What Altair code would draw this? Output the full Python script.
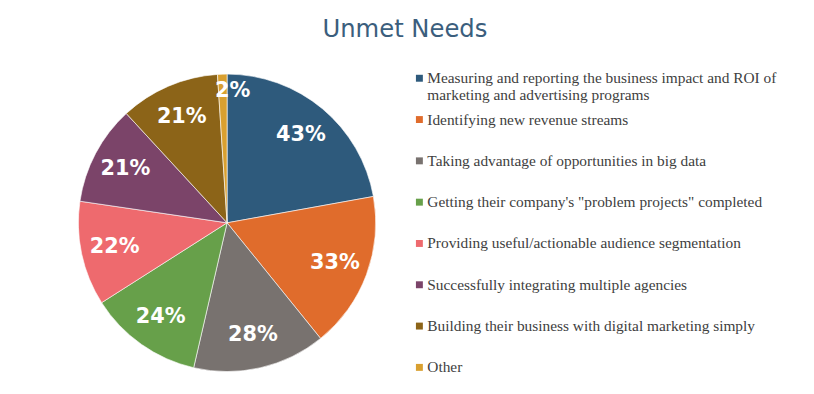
import altair as alt
import pandas as pd

categories = [
    "Measuring and reporting the business impact and ROI of marketing and advertising programs",
    "Identifying new revenue streams",
    "Taking advantage of opportunities in big data",
    "Getting their company's \"problem projects\" completed",
    "Providing useful/actionable audience segmentation",
    "Successfully integrating multiple agencies",
    "Building their business with digital marketing simply",
    "Other",
]
values = [43, 33, 28, 24, 22, 21, 21, 2]
colors = ["#2E5A7C", "#E06C2C", "#78726F", "#67A04A", "#EE6A6E", "#7B4469", "#8C6418", "#D9A030"]
line1 = [
    "Measuring and reporting the business impact and ROI of",
    "Identifying new revenue streams",
    "Taking advantage of opportunities in big data",
    "Getting their company's \"problem projects\" completed",
    "Providing useful/actionable audience segmentation",
    "Successfully integrating multiple agencies",
    "Building their business with digital marketing simply",
    "Other",
]
line2 = ["marketing and advertising programs", "", "", "", "", "", "", ""]

df = pd.DataFrame({
    "category": categories,
    "value": values,
    "order": list(range(len(values))),
    "label": [f"{v}%" for v in values],
    "line1": line1,
    "line2": line2,
})

color = alt.Color("category:N", scale=alt.Scale(domain=categories, range=colors), legend=None)
theta = alt.Theta("value:Q", stack=True)
order = alt.Order("order:Q")

base = alt.Chart(df)
arcs = base.mark_arc(radius=150, stroke="#ffffff", strokeWidth=0.6).encode(theta=theta, order=order, color=color)
big_text = base.mark_text(radius=116, font="DejaVu Sans", fontWeight="bold", fontSize=21, color="white").encode(
    theta=theta, order=order, text="label:N",
    opacity=alt.condition("datum.value >= 5", alt.value(1), alt.value(0)),
)
small_text = base.mark_text(radius=133, dx=10, font="DejaVu Sans", fontWeight="bold", fontSize=21, color="white").encode(
    theta=theta, order=order, text="label:N",
    opacity=alt.condition("datum.value < 5", alt.value(1), alt.value(0)),
)

pie = alt.layer(arcs, big_text, small_text).properties(width=300, height=300)

leg_y = alt.Y("category:N", sort=categories, axis=None, scale=alt.Scale(type="point", padding=0.1))
sq = alt.Chart(df).mark_square(size=49, opacity=1).encode(x=alt.value(3), y=leg_y, color=color)
t1 = alt.Chart(df).mark_text(align="left", baseline="middle", font="Liberation Serif", fontSize=15.5, color="#404040").encode(
    x=alt.value(11), y=leg_y, text="line1:N"
)
t2 = alt.Chart(df).mark_text(align="left", baseline="middle", dy=17, font="Liberation Serif", fontSize=15.5, color="#404040").encode(
    x=alt.value(11), y=leg_y, text="line2:N"
)
legend = alt.layer(sq, t1, t2).properties(width=393, height=300)

chart = alt.hconcat(pie, legend, spacing=30).properties(
    title=alt.TitleParams("Unmet Needs", fontSize=24.5, font="DejaVu Sans", fontWeight="normal",
                          color="#3B5E7D", anchor="middle", offset=29, dx=-37),
    padding={"left": 69, "top": 7, "right": 0, "bottom": 0},
).configure_view(stroke=None)

chart.save("out.html", embed_options={"renderer": "svg", "actions": False})
